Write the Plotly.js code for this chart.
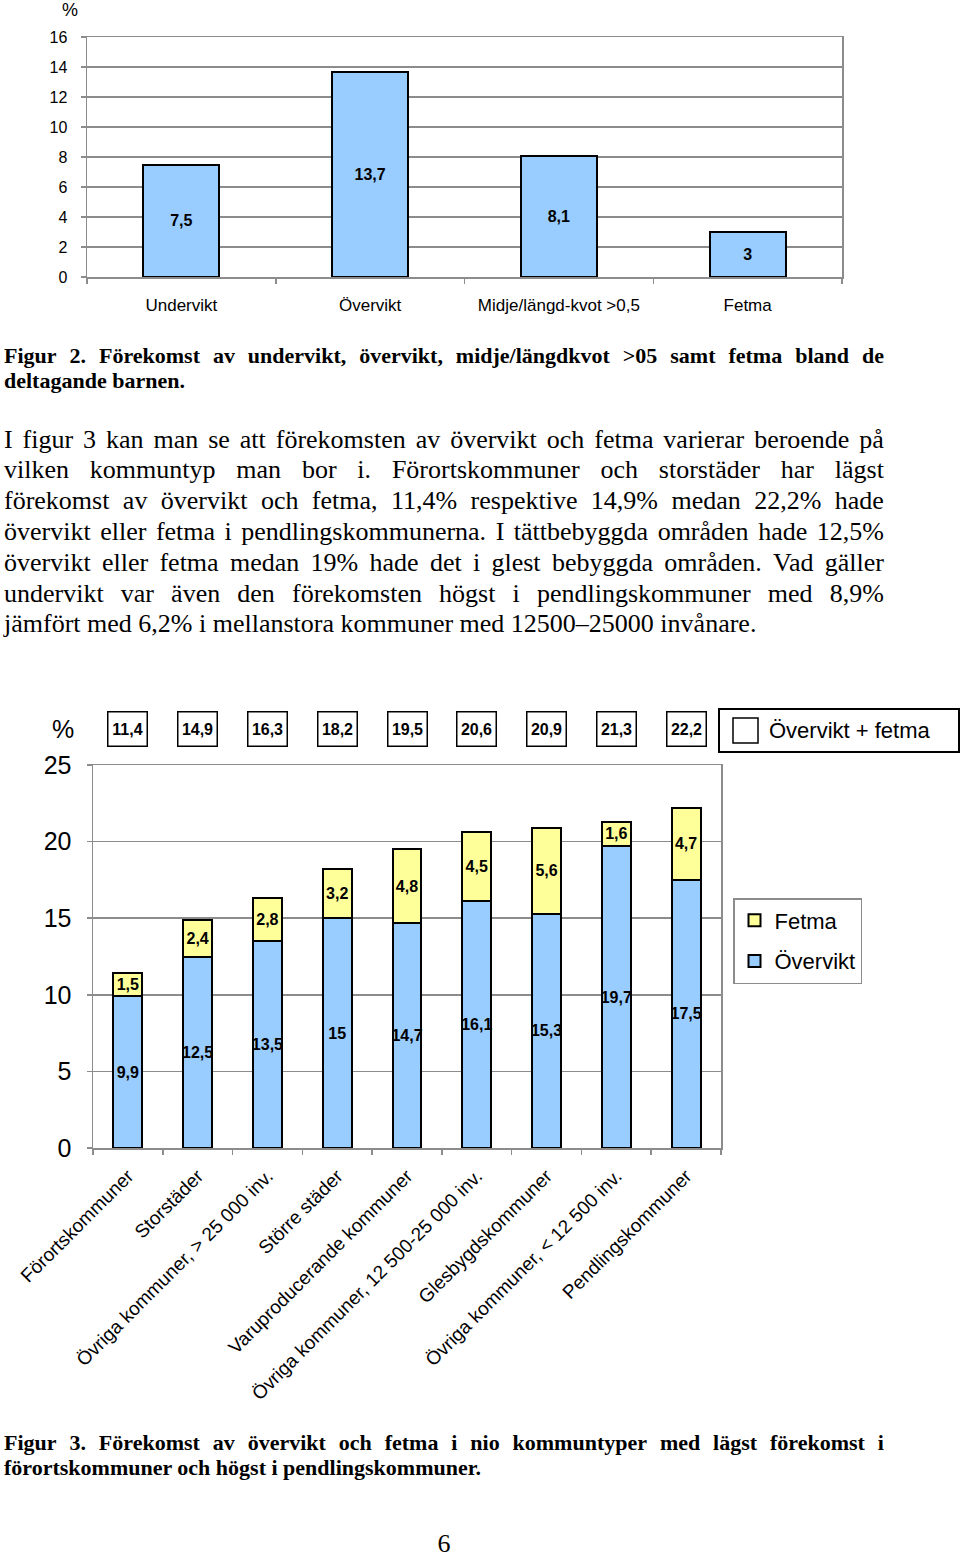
<!DOCTYPE html>
<html>
<head>
<meta charset="utf-8">
<script src="https://cdn.plot.ly/plotly-3.0.1.min.js"></script>
<style>
  html, body { margin: 0; padding: 0; background: #fff; }
  #page { position: relative; width: 960px; height: 1557px; overflow: hidden; }
  #chart { position: absolute; left: 0; top: 0; width: 960px; height: 1557px; }
  .txt { position: absolute; left: 4px; width: 880px; font-family: "Liberation Serif", "Times New Roman", serif; color: #000; }
  .line { display: flex; justify-content: space-between; white-space: nowrap; }
  .lastline { white-space: nowrap; }
  .cap { font-size: 22px; font-weight: bold; line-height: 25px; }
  .para { font-size: 26px; line-height: 30.83px; }
</style>
</head>
<body>
<div id="page">
  <div id="chart"></div>
  <div id="cap2" class="txt cap" style="top:343px"></div>
  <div id="para" class="txt para" style="top:424.5px"></div>
  <div id="cap3" class="txt cap" style="top:1430px"></div>
  <div class="txt para" style="top:1532px;left:0;width:888px;text-align:center;line-height:24px;">6</div>
</div>
<script>
// ---------- DATA ----------
const topCategories = ['Undervikt', 'Övervikt', 'Midje/längd-kvot >0,5', 'Fetma'];
const topValues = [7.5, 13.7, 8.1, 3];

const kommunTypes = [
  'Förortskommuner',
  'Storstäder',
  'Övriga kommuner, > 25 000 inv.',
  'Större städer',
  'Varuproducerande kommuner',
  'Övriga kommuner, 12 500-25 000 inv.',
  'Glesbygdskommuner',
  'Övriga kommuner, < 12 500 inv.',
  'Pendlingskommuner'
];
const overviktValues = [9.9, 12.5, 13.5, 15, 14.7, 16.1, 15.3, 19.7, 17.5];
const fetmaValues = [1.5, 2.4, 2.8, 3.2, 4.8, 4.5, 5.6, 1.6, 4.7];
const totalValues = [11.4, 14.9, 16.3, 18.2, 19.5, 20.6, 20.9, 21.3, 22.2];

const caption2Lines = [
  'Figur 2. Förekomst av undervikt, övervikt, midje/längdkvot >05 samt fetma bland de',
  'deltagande barnen.'
];
const paragraphLines = [
  'I figur 3 kan man se att förekomsten av övervikt och fetma varierar beroende på',
  'vilken kommuntyp man bor i. Förortskommuner och storstäder har lägst',
  'förekomst av övervikt och fetma, 11,4% respektive 14,9% medan 22,2% hade',
  'övervikt eller fetma i pendlingskommunerna. I tättbebyggda områden hade 12,5%',
  'övervikt eller fetma medan 19% hade det i glest bebyggda områden. Vad gäller',
  'undervikt var även den förekomsten högst i pendlingskommuner med 8,9%',
  'jämfört med 6,2% i mellanstora kommuner med 12500–25000 invånare.'
];
const caption3Lines = [
  'Figur 3. Förekomst av övervikt och fetma i nio kommuntyper med lägst förekomst i',
  'förortskommuner och högst i pendlingskommuner.'
];

// ---------- TEXT BLOCKS ----------
function fillLines(id, lines) {
  const el = document.getElementById(id);
  lines.forEach((ln, i) => {
    const d = document.createElement('div');
    if (i < lines.length - 1) {
      d.className = 'line';
      ln.split(' ').forEach(w => {
        const s = document.createElement('span');
        s.textContent = w;
        d.appendChild(s);
      });
    } else {
      d.className = 'lastline';
      d.textContent = ln;
    }
    el.appendChild(d);
  });
}
fillLines('cap2', caption2Lines);
fillLines('para', paragraphLines);
fillLines('cap3', caption3Lines);

// ---------- CHART ----------
const W = 960, H = 1557;
const px = x => x / W;
const py = y => 1 - y / H;
const fmt = v => String(v).replace('.', ',');

const SANS = 'Liberation Sans, Arial, sans-serif';
const BLUE = '#99CCFF';
const YELLOW = '#FFFF99';
const GRID = '#8c8c8c';

const traces = [
  {
    type: 'bar', x: topCategories, y: topValues, xaxis: 'x', yaxis: 'y',
    width: 0.402,
    marker: { color: BLUE, line: { color: '#000', width: 2 } },
    text: topValues.map(fmt), textposition: 'inside', insidetextanchor: 'middle',
    textangle: 0, constraintext: 'none',
    textfont: { family: SANS, size: 16, color: '#000', weight: 'bold' },
    showlegend: false, hoverinfo: 'skip'
  },
  {
    type: 'bar', name: 'Övervikt', x: kommunTypes, y: overviktValues, xaxis: 'x2', yaxis: 'y2',
    width: 0.415, legendgroup: 'a', legendrank: 2,
    marker: { color: BLUE, line: { color: '#000', width: 2 } },
    text: overviktValues.map(fmt), textposition: 'inside', insidetextanchor: 'middle',
    textangle: 0, constraintext: 'none',
    textfont: { family: SANS, size: 16, color: '#000', weight: 'bold' },
    hoverinfo: 'skip'
  },
  {
    type: 'bar', name: 'Fetma', x: kommunTypes, y: fetmaValues, xaxis: 'x2', yaxis: 'y2',
    width: 0.415, legendgroup: 'b', legendrank: 1,
    marker: { color: YELLOW, line: { color: '#000', width: 2 } },
    text: fetmaValues.map(fmt), textposition: 'inside', insidetextanchor: 'middle',
    textangle: 0, constraintext: 'none',
    textfont: { family: SANS, size: 16, color: '#000', weight: 'bold' },
    hoverinfo: 'skip'
  }
];

const annotations = [
  { xref: 'paper', yref: 'paper', x: px(70), y: py(10), xanchor: 'center', yanchor: 'middle',
    text: '%', showarrow: false, font: { family: SANS, size: 18, color: '#000' } },
  { xref: 'paper', yref: 'paper', x: px(63), y: py(729), xanchor: 'center', yanchor: 'middle',
    text: '%', showarrow: false, font: { family: SANS, size: 25, color: '#000' } },
  { xref: 'paper', yref: 'paper', x: px(767), y: py(730), xanchor: 'left', yanchor: 'middle',
    text: 'Övervikt + fetma', showarrow: false, font: { family: SANS, size: 22, color: '#000' } }
];
totalValues.forEach((v, i) => {
  annotations.push({
    xref: 'x2', yref: 'paper', x: kommunTypes[i], y: py(729), xanchor: 'center', yanchor: 'middle',
    text: '<b>' + fmt(v) + '</b>', showarrow: false,
    font: { family: SANS, size: 16, color: '#000' },
    bordercolor: '#000', borderwidth: 1.5, borderpad: 3, bgcolor: '#fff',
    width: 32, height: 27
  });
});

const shapes = [
  { type: 'rect', xref: 'paper', yref: 'paper', x0: px(719), x1: px(959), y0: py(752), y1: py(709),
    line: { color: '#000', width: 2 }, fillcolor: 'rgba(0,0,0,0)' },
  { type: 'rect', xref: 'paper', yref: 'paper', x0: px(733), x1: px(758), y0: py(743), y1: py(718),
    line: { color: '#000', width: 1.5 }, fillcolor: '#fff' }
];

const axisCommon = {
  showline: true, mirror: true, linecolor: GRID, linewidth: 1.5,
  zeroline: false, fixedrange: true
};

const layout = {
  width: W, height: H, autosize: false,
  margin: { l: 0, r: 0, t: 0, b: 0, pad: 0 },
  paper_bgcolor: '#fff', plot_bgcolor: '#fff',
  barmode: 'stack',
  font: { family: SANS, color: '#000' },
  xaxis: Object.assign({}, axisCommon, {
    domain: [px(87), px(842)], anchor: 'y',
    type: 'category', tickson: 'boundaries', ticks: 'outside', ticklen: 5, tickcolor: GRID, tickwidth: 1.5,
    showgrid: false, tickfont: { family: SANS, size: 17, color: '#000' }, ticklabelstandoff: 12
  }),
  yaxis: Object.assign({}, axisCommon, {
    domain: [py(277), py(37)], anchor: 'x', range: [0, 16], dtick: 2,
    ticks: 'outside', ticklen: 5, tickcolor: GRID, tickwidth: 1.5,
    showgrid: true, gridcolor: GRID, gridwidth: 1.5,
    tickfont: { family: SANS, size: 16, color: '#000' }, ticklabelstandoff: 10
  }),
  xaxis2: Object.assign({}, axisCommon, {
    domain: [px(93), px(721)], anchor: 'y2',
    type: 'category', tickson: 'boundaries', ticks: 'outside', ticklen: 5, tickcolor: GRID, tickwidth: 1.5,
    showgrid: false, tickangle: -45, tickfont: { family: SANS, size: 19, color: '#000' }, ticklabelstandoff: 8
  }),
  yaxis2: Object.assign({}, axisCommon, {
    domain: [py(1148), py(765)], anchor: 'x2', range: [0, 25], dtick: 5,
    ticks: 'outside', ticklen: 5, tickcolor: GRID, tickwidth: 1.5,
    showgrid: true, gridcolor: GRID, gridwidth: 1.5,
    tickfont: { family: SANS, size: 25, color: '#000' }, ticklabelstandoff: 10
  }),
  showlegend: true,
  legend: {
    x: px(733), y: py(898), xanchor: 'left', yanchor: 'top',
    traceorder: 'grouped', tracegroupgap: 9,
    bgcolor: '#fff', bordercolor: GRID, borderwidth: 1.5,
    font: { family: SANS, size: 22, color: '#000' },
    itemwidth: 30
  },
  annotations: annotations,
  shapes: shapes
};

Plotly.newPlot('chart', traces, layout, { displayModeBar: false, staticPlot: true });
</script>
</body>
</html>
